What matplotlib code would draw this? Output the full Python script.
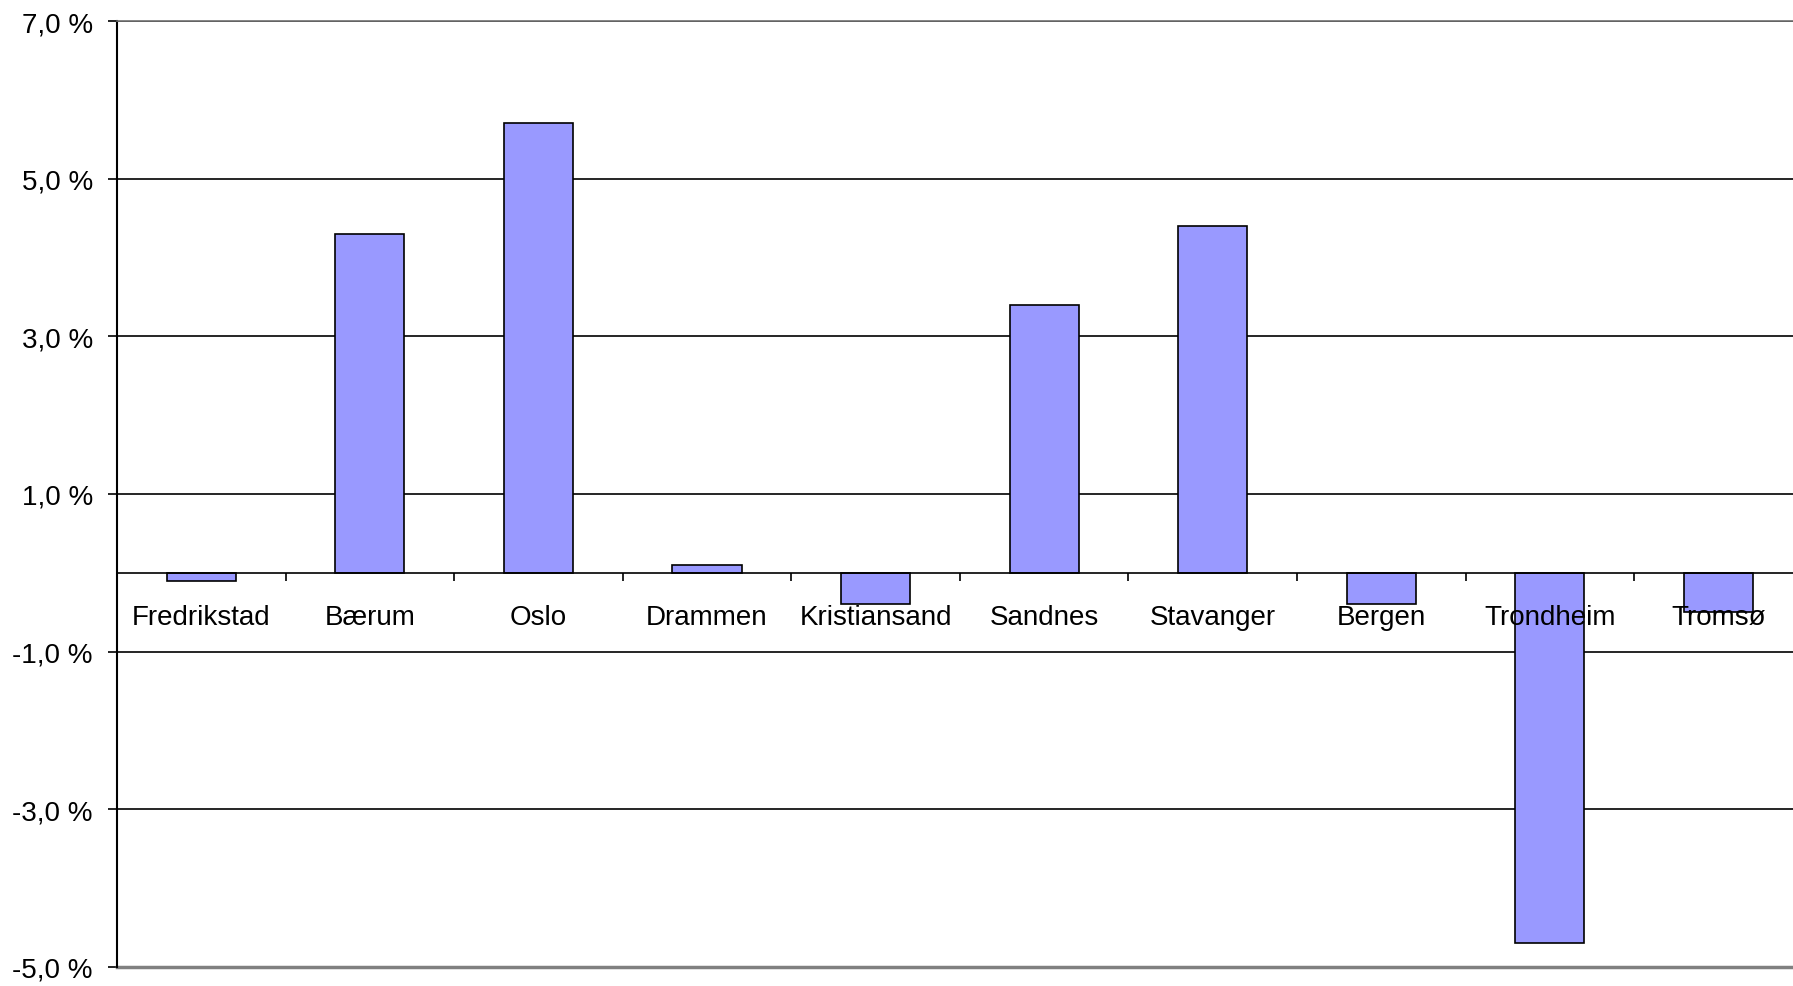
import matplotlib.pyplot as plt
import numpy as np
from matplotlib.ticker import FixedLocator, FuncFormatter

plt.rcParams['font.family'] = ['Liberation Sans', 'DejaVu Sans']

# data (percent change)
cities = ['Fredrikstad', 'Bærum', 'Oslo', 'Drammen', 'Kristiansand',
          'Sandnes', 'Stavanger', 'Bergen', 'Trondheim', 'Tromsø']
change = [-0.1, 4.3, 5.7, 0.1, -0.4, 3.4, 4.4, -0.4, -4.7, -0.5]
y_ticks = [-5, -3, -1, 1, 3, 5, 7]


def pct_label(v, pos):
    return ('%.1f %%' % v).replace('.', ',')


fig = plt.figure(figsize=(17.93, 9.87), dpi=100)
# plot area runs a little past the right edge of the picture, as in the original
ax = fig.add_axes([0.0653, 0.0193, 0.9401, 0.9584])

x = np.arange(len(cities))
ax.bar(x, change, width=0.41, color='#9999ff', edgecolor='black', linewidth=1.2, zorder=3)

ax.set_xlim(-0.5, len(cities) - 0.5)
ax.set_ylim(-5, 7)

# horizontal grid, kept behind the bars
ax.set_yticks(y_ticks)
ax.yaxis.set_major_formatter(FuncFormatter(pct_label))
ax.grid(axis='y', color='black', linewidth=1.2)
ax.yaxis.set_zorder(1)
ax.tick_params(axis='y', direction='out', length=6.5, width=1.2, pad=11, labelsize=20)

# x axis sits on the zero line, ticks between categories, labels drawn over bars
ax.spines['bottom'].set_position(('data', 0))
ax.spines['bottom'].set_linewidth(1.2)
ax.spines['bottom'].set_zorder(4)
ax.xaxis.set_zorder(5)
ax.set_xticks(x)
ax.set_xticklabels(cities)
ax.xaxis.set_minor_locator(FixedLocator(np.arange(-0.5, len(cities), 1.0)))
ax.tick_params(axis='x', which='major', length=0, pad=22.5, labelsize=20)
ax.tick_params(axis='x', which='minor', direction='out', length=6, width=1.2)

ax.spines['left'].set_linewidth(1.5)
ax.spines['right'].set_visible(False)
ax.spines['top'].set_color('#707070')
ax.spines['top'].set_linewidth(1.2)
ax.axhline(-5, color='#808080', linewidth=2.5, clip_on=False)

fig.savefig('out.png', dpi=100)
